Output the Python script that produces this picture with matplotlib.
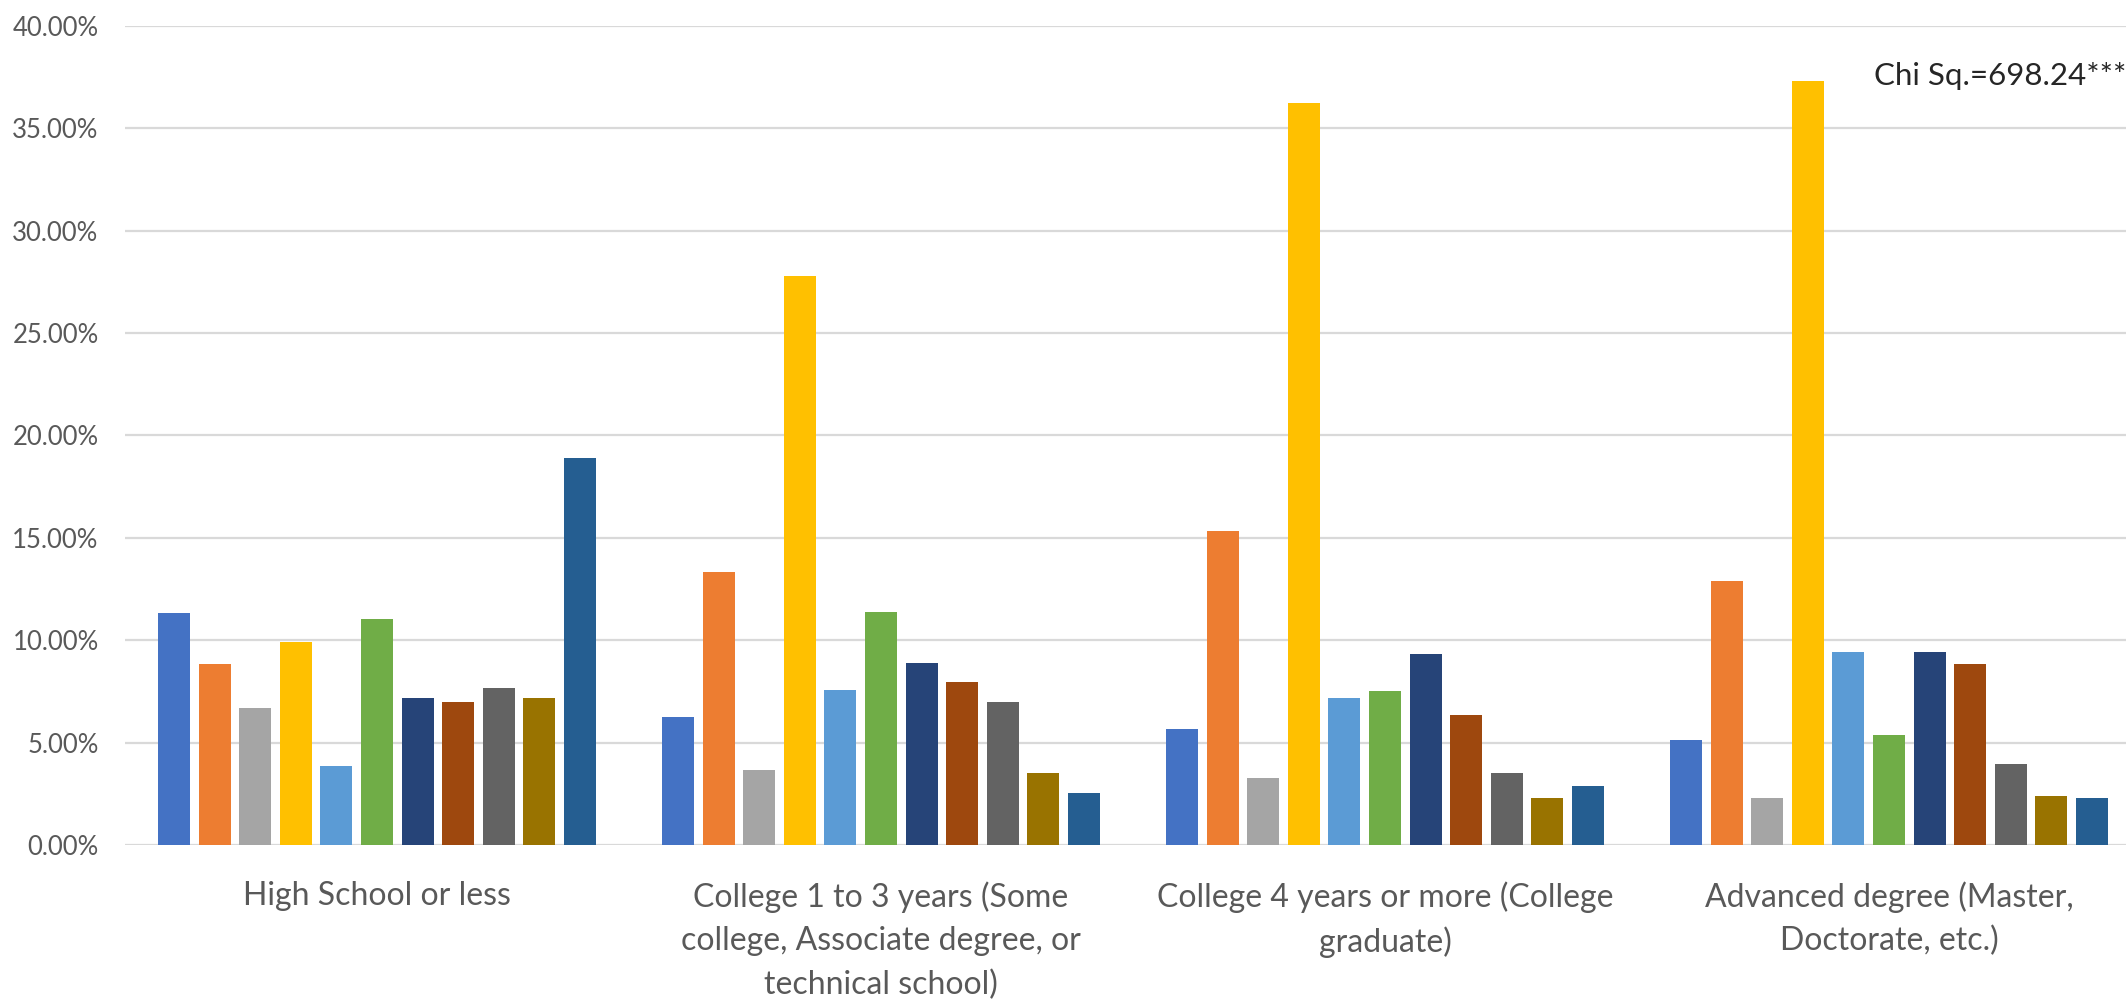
import matplotlib
matplotlib.use("Agg")
import matplotlib.pyplot as plt
import numpy as np

categories = [
    "High School or less",
    "College 1 to 3 years (Some\ncollege, Associate degree, or\ntechnical school)",
    "College 4 years or more (College\ngraduate)",
    "Advanced degree (Master,\nDoctorate, etc.)",
]

# share (%) of each of the 11 response groups within an education level
s1 = [11.34, 6.26, 5.64, 5.15]
s2 = [8.86, 13.31, 15.34, 12.89]
s3 = [6.70, 3.64, 3.25, 2.30]
s4 = [9.92, 27.77, 36.23, 37.30]
s5 = [3.84, 7.57, 7.20, 9.43]
s6 = [11.01, 11.39, 7.54, 5.39]
s7 = [7.17, 8.90, 9.33, 9.43]
s8 = [6.96, 7.94, 6.36, 8.86]
s9 = [7.65, 6.98, 3.50, 3.95]
s10 = [7.17, 3.51, 2.31, 2.40]
s11 = [18.90, 2.55, 2.89, 2.30]
series = [s1, s2, s3, s4, s5, s6, s7, s8, s9, s10, s11]

colors = ["#4472C4", "#ED7D31", "#A5A5A5", "#FFC000", "#5B9BD5", "#70AD47",
          "#264478", "#9E480E", "#636363", "#997300", "#255E91"]

chi_text = "Chi Sq.=698.24***"

plt.rcParams['font.family'] = ['Lato', 'DejaVu Sans']
text_color = "#595959"

W, H = 2126, 1006
fig = plt.figure(figsize=(W / 100, H / 100), dpi=100)
ax = fig.add_axes([125 / W, (H - 845) / H, 2016 / W, (845 - 25.7) / H])

x = np.arange(len(categories))
pitch = 0.0804
bw = 0.0635
for i, (vals, c) in enumerate(zip(series, colors)):
    ax.bar(x + (i - 5) * pitch, np.array(vals) / 100, width=bw, color=c, zorder=3)

ax.set_xlim(-0.5, 3.5)
ax.set_ylim(0, 0.40)
ax.set_yticks(np.arange(0, 0.401, 0.05))
ax.set_yticklabels([f"{v * 100:.2f}%" for v in np.arange(0, 0.401, 0.05)])
ax.set_xticks(x)
ax.set_xticklabels(categories, fontsize=23, color=text_color, linespacing=1.55)

ax.grid(axis='y', color='#D9D9D9', linewidth=1.6, zorder=0)
ax.tick_params(axis='y', length=0, pad=19, labelsize=18.5, labelcolor=text_color)
ax.tick_params(axis='x', length=0, pad=26)
for sp in ax.spines.values():
    sp.set_visible(False)

ax.text(2.97, 0.371, chi_text, fontsize=22.5, color="#262626", ha='left', va='baseline')

fig.savefig("out.png", dpi=100, facecolor='white')
